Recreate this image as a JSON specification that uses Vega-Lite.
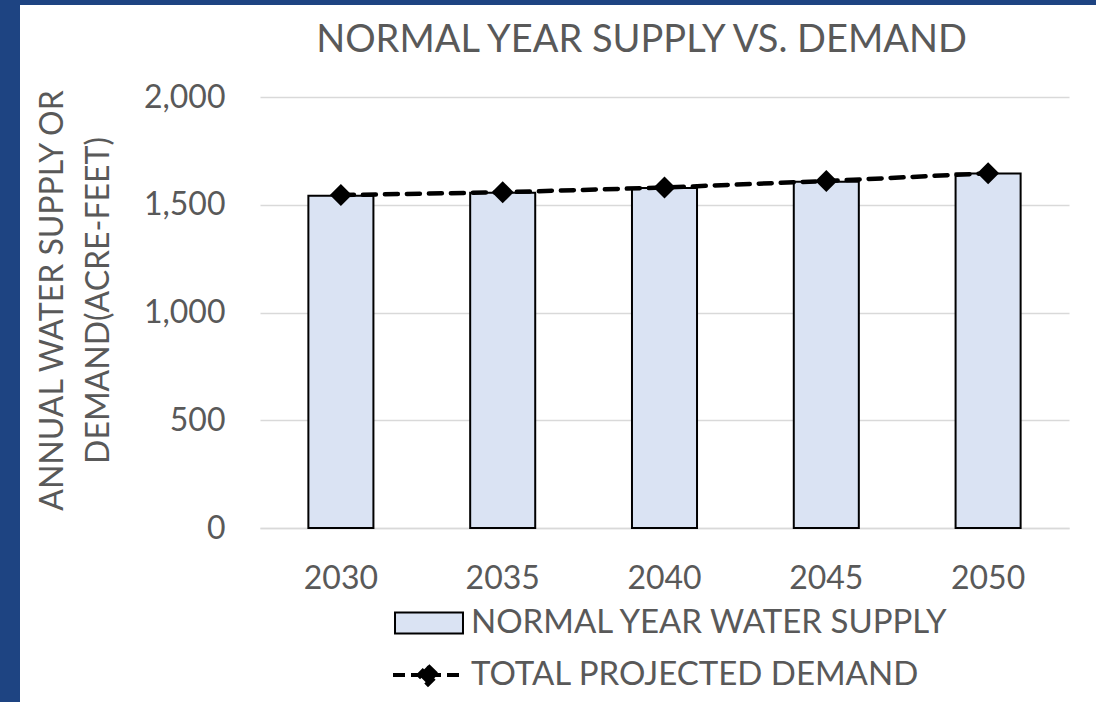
{
  "$schema": "https://vega.github.io/schema/vega-lite/v6.json",
  "padding": 0,
  "background": "white",
  "spacing": 0,
  "config": {
    "font": "Lato",
    "view": {"stroke": null},
    "concat": {"spacing": 0}
  },
  "vconcat": [
    {
      "width": 1096,
      "height": 5,
      "view": {"fill": "#1E4482", "stroke": null},
      "data": {"values": []},
      "mark": "point"
    },
    {
      "spacing": 16,
      "hconcat": [
        {
          "width": 20,
          "height": 697,
          "view": {"fill": "#1E4482", "stroke": null},
          "data": {"values": []},
          "mark": "point"
        },
        {
          "spacing": 0,
          "vconcat": [
            {
              "width": 10,
              "height": 17,
              "data": {"values": []},
              "mark": "point"
            },
            {
              "width": 809,
              "height": 431,
              "title": {
                "text": "NORMAL YEAR SUPPLY VS. DEMAND",
                "font": "Lato",
                "fontSize": 38,
                "fontWeight": "normal",
                "color": "#595959",
                "anchor": "middle",
                "offset": 21,
                "dx": -23
              },
              "data": {
                "values": [
                  {"year": "2030", "supply": 1542, "demand": 1545},
                  {"year": "2035", "supply": 1556, "demand": 1558},
                  {"year": "2040", "supply": 1578, "demand": 1580},
                  {"year": "2045", "supply": 1607, "demand": 1610},
                  {"year": "2050", "supply": 1645, "demand": 1646}
                ]
              },
              "encoding": {
                "x": {
                  "field": "year",
                  "type": "ordinal",
                  "scale": {"paddingInner": 0.598, "paddingOuter": 0.299},
                  "axis": {
                    "title": null,
                    "labelAngle": 0,
                    "labelFont": "Lato",
                    "labelFontSize": 32,
                    "labelColor": "#595959",
                    "labelPadding": 35,
                    "ticks": false,
                    "domainColor": "#D9D9D9",
                    "domainWidth": 1.5
                  }
                }
              },
              "layer": [
                {
                  "mark": {"type": "bar", "stroke": "black", "strokeWidth": 2},
                  "encoding": {
                    "y": {
                      "field": "supply",
                      "type": "quantitative",
                      "scale": {"domain": [0, 2000], "nice": false},
                      "axis": {
                        "values": [0, 500, 1000, 1500, 2000],
                        "format": ",.0f",
                        "title": ["ANNUAL WATER SUPPLY OR", "DEMAND(ACRE-FEET)"],
                        "titleFont": "Lato",
                        "titleFontSize": 32,
                        "titleFontWeight": "normal",
                        "titleColor": "#595959",
                        "titleLineHeight": 46,
                        "titlePadding": 28,
                        "titleY": 203,
                        "labelFont": "Lato",
                        "labelFontSize": 32,
                        "labelColor": "#595959",
                        "labelPadding": 35,
                        "ticks": false,
                        "domain": false,
                        "gridColor": "#D9D9D9",
                        "gridWidth": 1.5
                      }
                    },
                    "fill": {
                      "datum": "NORMAL YEAR WATER SUPPLY",
                      "type": "nominal",
                      "scale": {"range": ["#DAE3F3"]},
                      "legend": {
                        "title": null,
                        "orient": "none",
                        "legendX": 393,
                        "legendY": 587,
                        "padding": 0,
                        "symbolType": "M-0.971,-0.3H0.971V0.3H-0.971Z",
                        "symbolSize": 4900,
                        "symbolStrokeColor": "black",
                        "symbolStrokeWidth": 2,
                        "labelFont": "Lato",
                        "labelFontSize": 33,
                        "labelColor": "#595959",
                        "labelOffset": 6,
                        "labelLimit": 1000
                      }
                    }
                  }
                },
                {
                  "mark": {"type": "line", "strokeWidth": 4.5, "strokeDash": [13, 9], "strokeCap": "round"},
                  "encoding": {
                    "y": {"field": "demand", "type": "quantitative"},
                    "stroke": {
                      "datum": "TOTAL PROJECTED DEMAND",
                      "type": "nominal",
                      "scale": {"range": ["black"]},
                      "legend": {
                        "title": null,
                        "orient": "none",
                        "legendX": 391,
                        "legendY": 638,
                        "padding": 0,
                        "symbolType": "M-1,0H1M0,-0.27L0.27,0L0,0.27L-0.27,0Z",
                        "symbolSize": 4900,
                        "symbolStrokeWidth": 4,
                        "symbolDash": [12, 6],
                        "labelFont": "Lato",
                        "labelFontSize": 33,
                        "labelColor": "#595959",
                        "labelOffset": 6,
                        "labelLimit": 1000,
                        "encode": {
                          "symbols": {
                            "update": {
                              "fill": {"value": "black"},
                              "stroke": {"value": "black"}
                            }
                          }
                        }
                      }
                    }
                  }
                },
                {
                  "mark": {"type": "point", "shape": "diamond", "filled": true, "size": 484, "color": "black", "opacity": 1},
                  "encoding": {
                    "y": {"field": "demand", "type": "quantitative"}
                  }
                }
              ]
            }
          ]
        }
      ]
    }
  ]
}
